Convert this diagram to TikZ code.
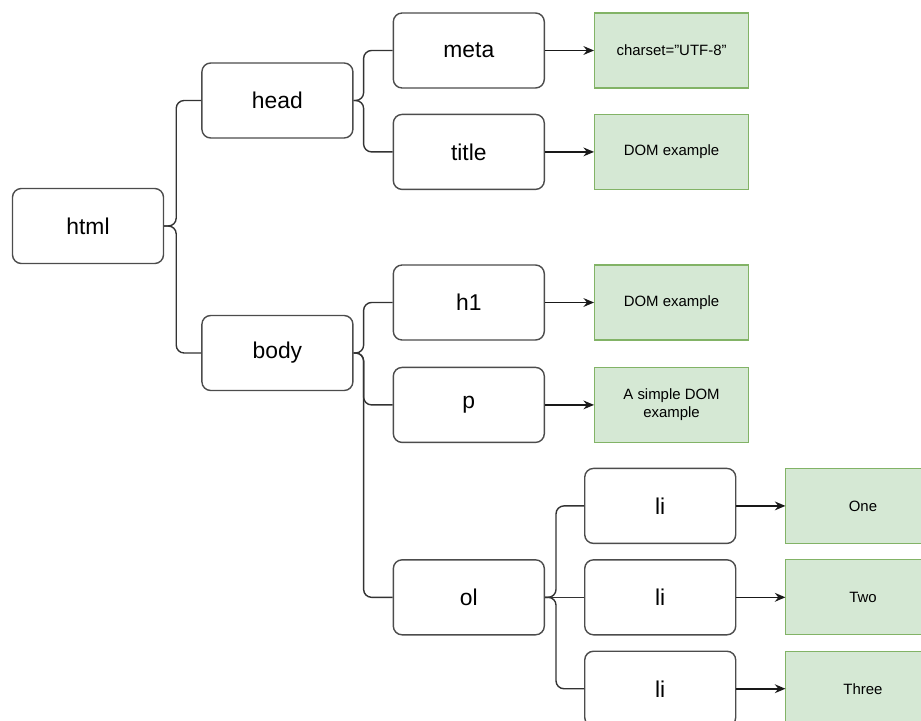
\documentclass[tikz,border=0pt]{standalone}
\usepackage{fontspec}
\setmainfont{Liberation Sans}
\usepackage{xcolor}
\usepackage{tikz}
\usetikzlibrary{arrows.meta, positioning}
\definecolor{leafgreen}{HTML}{D5E8D4}
\definecolor{leafedge}{HTML}{82B366}
\tikzset{
    tag/.style={
        rectangle,
        draw=black!70,
        line width=0.8pt,
        rounded corners=5pt,
        minimum width=3.02cm,
        minimum height=1.5cm,
        fill=white,
        font=\fontsize{13}{15}\selectfont
    },
    content/.style={
        rectangle,
        draw=leafedge,
        line width=0.6pt,
        minimum width=3.08cm,
        minimum height=1.5cm,
        fill=leafgreen,
        align=center,
        font=\fontsize{8.5}{10}\selectfont
    },
    branch/.style={
        draw=black!80,
        line width=0.8pt,
        rounded corners=4.5pt
    },
    link/.style={
        draw=black!90,
        line width=0.9pt,
        -{Stealth[length=6pt,width=5pt]}
    }
}
\begin{document}
\begin{tikzpicture}

\useasboundingbox (0,0) rectangle (18.42,-14.4);
\clip (0,0) rectangle (18.42,-14.4);

% Root and first level
\node[tag] (html) at (1.76,-4.52) {html};
\node[tag, right=0.74cm of html, yshift=2.51cm] (head) {head};
\node[tag, right=0.74cm of html, yshift=-2.54cm] (body) {body};

% head children
\node[tag, right=0.78cm of head, yshift=1cm] (meta) {meta};
\node[tag, below=0.5cm of meta] (title) {title};
\node[content, right=0.98cm of meta] (charset) {charset="UTF-8"};
\node[content, right=0.98cm of title] (titletext) {DOM example};

% body children
\node[tag, right=0.78cm of body, yshift=1.01cm] (h1) {h1};
\node[tag, below=0.52cm of h1] (p) {p};
\node[tag, below=2.32cm of p] (ol) {ol};
\node[content, right=0.98cm of h1] (h1text) {DOM example};
\node[content, right=0.98cm of p] (ptext) {A simple DOM\\example};

% list items
\node[tag, right=0.78cm of ol] (li2) {li};
\node[tag, above=0.3cm of li2] (li1) {li};
\node[tag, below=0.3cm of li2] (li3) {li};
\node[content, right=0.98cm of li1] (one) {One};
\node[content, right=0.98cm of li2] (two) {Two};
\node[content, right=0.98cm of li3] (three) {Three};

% Tree branches
\draw[branch] (html.east) -- ++(0.24,0) |- (head.west);
\draw[branch] (html.east) -- ++(0.24,0) |- (body.west);
\draw[branch] (head.east) -- ++(0.2,0) |- (meta.west);
\draw[branch] (head.east) -- ++(0.2,0) |- (title.west);
\draw[branch] (body.east) -- ++(0.2,0) |- (h1.west);
\draw[branch] (body.east) -- ++(0.2,0) |- (p.west);
\draw[branch] (body.east) -- ++(0.2,0) |- (ol.west);
\draw[branch] (ol.east) -- ++(0.22,0) |- (li1.west);
\draw[branch] (ol.east) -- (li2.west);
\draw[branch] (ol.east) -- ++(0.22,0) |- (li3.west);

% Text content
\draw[link] (meta) -- (charset);
\draw[link] (title) -- (titletext);
\draw[link] (h1) -- (h1text);
\draw[link] (p) -- (ptext);
\draw[link] (li1) -- (one);
\draw[link] (li2) -- (two);
\draw[link] (li3) -- (three);

\end{tikzpicture}
\end{document}
